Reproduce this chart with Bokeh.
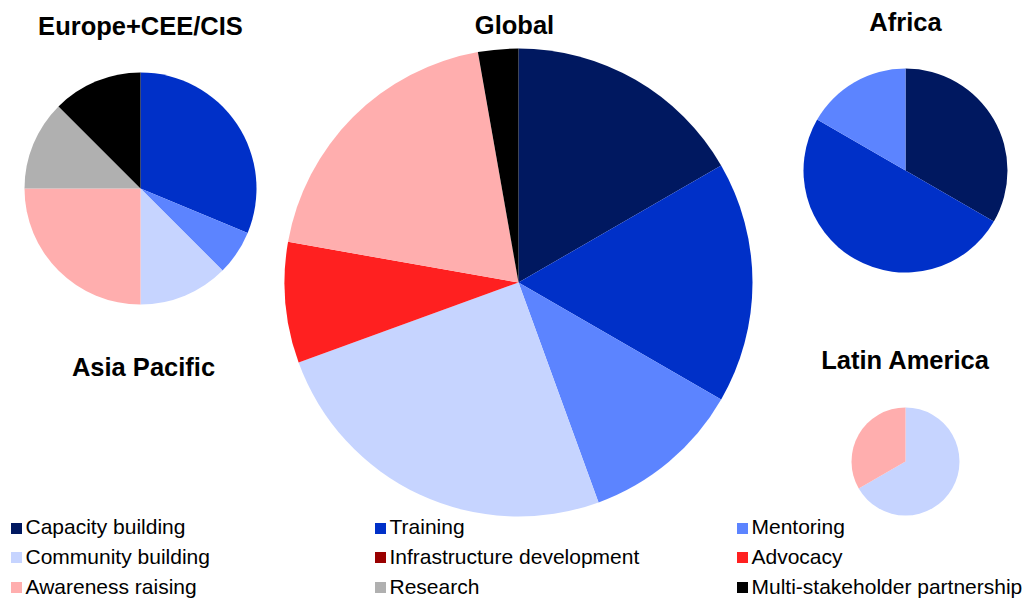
import numpy as np
from bokeh.plotting import figure
from bokeh.models import Range1d
from bokeh.core.properties import value
from bokeh.embed import file_html
from bokeh.resources import INLINE

categories = ["Capacity building", "Training", "Mentoring",
              "Community building", "Infrastructure development", "Advocacy",
              "Awareness raising", "Research", "Multi-stakeholder partnership"]
colors = ["#001860", "#0030c8", "#5c84ff",
          "#c6d4ff", "#990000", "#ff2020",
          "#ffaeae", "#b0b0b0", "#000000"]

regions = ["Europe+CEE/CIS", "Global", "Africa", "Asia Pacific", "Latin America"]
europe = [0, 5, 1, 2, 0, 0, 4, 2, 2]
global_ = [6, 6, 4, 9, 0, 3, 7, 0, 1]
africa = [2, 3, 1, 0, 0, 0, 0, 0, 0]
asia_pacific = [0, 1, 0, 0, 0, 0, 0, 0, 0]
latin_america = [0, 0, 0, 2, 0, 0, 1, 0, 0]
series = [europe, global_, africa, asia_pacific, latin_america]

# layout (reference pixel coordinates): pie centre, radius, title position
pie_cx = [140, 518, 905, 143, 905]
pie_cy = [188, 282, 170, 443, 461]
pie_r = [116, 234, 102, 31, 54]
title_x = [140, 514, 905, 143, 905]
title_y = [25, 24, 21, 366, 359]

W, H = 1030, 599
p = figure(width=W, height=H, output_backend="svg", toolbar_location=None,
           x_range=Range1d(0, W), y_range=Range1d(0, H),
           min_border=0, outline_line_color=None)
p.axis.visible = False
p.grid.visible = False


def Y(ry):
    return H - ry


for k in range(len(regions)):
    vals = np.array(series[k], dtype=float)
    total = vals.sum()
    frac = np.cumsum(vals) / total
    a_end = 2 * np.pi * frac
    a_start = np.concatenate([[0.0], a_end[:-1]])
    sel = vals > 0
    starts = np.pi / 2 - a_end[sel]
    ends = np.pi / 2 - a_start[sel]
    cols = [c for c, s in zip(colors, sel) if s]
    n = int(sel.sum())
    p.wedge(x=[pie_cx[k]] * n, y=[Y(pie_cy[k])] * n, radius=pie_r[k],
            radius_units="screen", start_angle=list(starts), end_angle=list(ends),
            fill_color=cols, line_color=None)
    p.text(x=[title_x[k]], y=[Y(title_y[k])], text=[regions[k]],
           text_font=value("Liberation Sans"), text_font_style="bold",
           text_font_size="25.5px", text_align="center", text_baseline="alphabetic",
           text_color="#000000")

# legend (3 columns x 3 rows)
col_sq_x = [16, 380, 742]
row_sq_y = [528, 557, 587]
row_txt_y = [526, 556, 586]
lx, ly, lc, tx, ty = [], [], [], [], []
for i, cat in enumerate(categories):
    r, c = divmod(i, 3)
    lx.append(col_sq_x[c])
    ly.append(Y(row_sq_y[r]))
    lc.append(colors[i])
    tx.append(col_sq_x[c] + 9)
    ty.append(Y(row_txt_y[r]))
p.scatter(x=lx, y=ly, marker="square", size=11, fill_color=lc, line_color=None)
p.text(x=tx, y=ty, text=categories,
       text_font=value("Liberation Sans"), text_font_size="21px",
       text_align="left", text_baseline="alphabetic", text_color="#000000")

open("out.html", "w").write(file_html(p, INLINE))
